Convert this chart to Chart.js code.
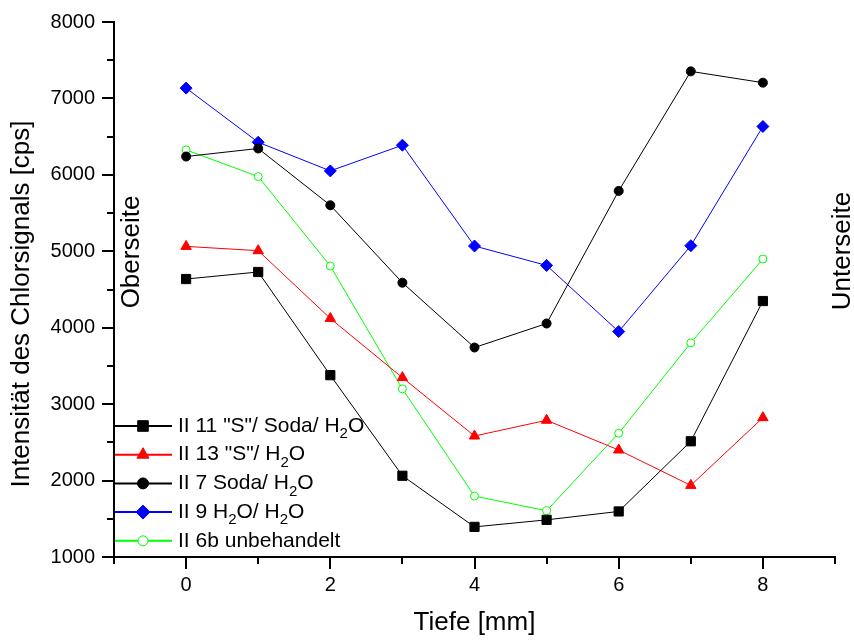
<!DOCTYPE html>
<html>
<head>
<meta charset="utf-8">
<script src="https://cdn.jsdelivr.net/npm/chart.js@4/dist/chart.umd.min.js"></script>
<style>
  html, body { margin: 0; padding: 0; background: #fff; }
  #wrap { width: 854px; height: 640px; }
</style>
</head>
<body>
<div id="wrap"><canvas id="myChart" width="854" height="640"></canvas></div>
<script>
// depth in mm
const depth = [0, 1, 2, 3, 4, 5, 6, 7, 8];

// chlorine signal intensity [cps]
const s11 = [4637, 4729, 3379, 2063, 1394, 1486, 1596, 2514, 4349];
const s13 = [5064, 5008, 4121, 3347, 2583, 2789, 2400, 1937, 2823];
const s7  = [6240, 6345, 5602, 4589, 3741, 4055, 5790, 7354, 7206];
const s9  = [7135, 6427, 6052, 6388, 5069, 4815, 3950, 5073, 6633];
const s6b = [6327, 5978, 4807, 3199, 1797, 1605, 2619, 3802, 4899];

// "_2" marks a subscript 2
const names = ['II 11 "S"/ Soda/ H_2O', 'II 13 "S"/ H_2O', 'II 7 Soda/ H_2O', 'II 9 H_2O/ H_2O', 'II 6b unbehandelt'];

const xTicks = [-1, 0, 1, 2, 3, 4, 5, 6, 7, 8, 9];
const yTicks = [1000, 1500, 2000, 2500, 3000, 3500, 4000, 4500, 5000, 5500, 6000, 6500, 7000, 7500, 8000];

const FONT = "'Liberation Sans', Arial, sans-serif";

function pts(vals) {
  return depth.map(function (d, i) { return { x: d, y: vals[i] }; });
}

function series(label, vals, color, style, radius, fill) {
  return {
    label: label,
    data: pts(vals),
    borderColor: color,
    backgroundColor: color,
    borderWidth: 1,
    pointStyle: style,
    pointRadius: radius,
    pointHoverRadius: radius,
    pointBackgroundColor: fill || color,
    pointBorderColor: color,
    pointBorderWidth: 1,
    tension: 0
  };
}

// axis ticks, extra labels and legend drawn on top
const extras = {
  id: 'extras',
  afterDraw: function (chart) {
    const ctx = chart.ctx;
    const xs = chart.scales.x, ys = chart.scales.y;
    const area = chart.chartArea;
    ctx.save();
    ctx.strokeStyle = '#000';
    ctx.lineWidth = 2;
    xTicks.forEach(function (t) {
      const px = Math.round(xs.getPixelForValue(t));
      const len = (t % 2 === 0) ? 12 : 7;
      ctx.beginPath();
      ctx.moveTo(px, area.bottom);
      ctx.lineTo(px, area.bottom + len);
      ctx.stroke();
    });
    yTicks.forEach(function (t) {
      const py = Math.round(ys.getPixelForValue(t));
      const len = (t % 1000 === 0) ? 12 : 7;
      ctx.beginPath();
      ctx.moveTo(area.left, py);
      ctx.lineTo(area.left - len, py);
      ctx.stroke();
    });

    ctx.fillStyle = '#000';
    ctx.textAlign = 'center';
    ctx.textBaseline = 'middle';
    ctx.font = '26px ' + FONT;
    ctx.fillText('Tiefe [mm]', (area.left + area.right) / 2, 623);

    function vtext(txt, x, y) {
      ctx.save();
      ctx.translate(x, y);
      ctx.rotate(-Math.PI / 2);
      ctx.fillText(txt, 0, 0);
      ctx.restore();
    }
    vtext('Intensität des Chlorsignals [cps]', 22, 304);
    vtext('Oberseite', 132, 252);
    vtext('Unterseite', 843, 251);

    // legend
    const y0 = 426, step = 28.7;
    chart.data.datasets.forEach(function (ds, i) {
      const y = y0 + i * step;
      ctx.strokeStyle = ds.borderColor;
      ctx.lineWidth = 2;
      ctx.beginPath();
      ctx.moveTo(area.left + 1, y);
      ctx.lineTo(172, y);
      ctx.stroke();
      ctx.fillStyle = ds.pointBackgroundColor;
      ctx.strokeStyle = ds.pointBorderColor;
      ctx.lineWidth = 1;
      Chart.helpers.drawPoint(ctx, { pointStyle: ds.pointStyle, radius: ds.pointRadius + 1, borderWidth: 1, rotation: 0 }, 143, y);
      ctx.fillStyle = '#000';
      ctx.textAlign = 'left';
      let x = 178;
      const parts = names[i].split('_');
      parts.forEach(function (p, k) {
        if (k > 0) {
          ctx.font = '15px ' + FONT;
          ctx.fillText(p.charAt(0), x, y + 8);
          x += ctx.measureText(p.charAt(0)).width;
          p = p.slice(1);
        }
        ctx.font = '21px ' + FONT;
        ctx.fillText(p, x, y);
        x += ctx.measureText(p).width;
      });
    });
    ctx.restore();
  }
};

document.addEventListener('DOMContentLoaded', function () {
  var ctx = document.getElementById('myChart').getContext('2d');
  var myChart = new Chart(ctx, {
    type: 'line',
    data: {
      datasets: [
        series(names[0], s11, '#000000', 'rect', 6.5),
        series(names[1], s13, '#ff0000', 'triangle', 6),
        series(names[2], s7, '#000000', 'circle', 4.5),
        series(names[3], s9, '#0000ff', 'rectRot', 6),
        series(names[4], s6b, '#00ff00', 'circle', 4, '#ffffff')
      ]
    },
    plugins: [extras],
    options: {
      responsive: false,
      animation: false,
      events: [],
      layout: { padding: { left: 0, right: 19, top: 22, bottom: 0 } },
      plugins: { legend: { display: false }, tooltip: { enabled: false } },
      scales: {
        x: {
          type: 'linear',
          min: -1,
          max: 9,
          afterFit: function (s) { s.height = 83; },
          grid: { display: false, drawTicks: false },
          border: { display: true, color: '#000', width: 2 },
          ticks: {
            stepSize: 1,
            autoSkip: false,
            maxRotation: 0,
            padding: 16,
            color: '#000',
            font: { family: FONT, size: 20 },
            callback: function (v) { return (v >= 0 && v <= 8 && v % 2 === 0) ? String(v) : ''; }
          }
        },
        y: {
          min: 1000,
          max: 8000,
          afterFit: function (s) { s.width = 114; },
          grid: { display: true, drawOnChartArea: false, drawTicks: true, tickLength: 19, tickColor: 'rgba(0,0,0,0)' },
          border: { display: true, color: '#000', width: 2 },
          ticks: {
            stepSize: 1000,
            padding: 0,
            color: '#000',
            font: { family: FONT, size: 20 },
            callback: function (v) { return String(v); }
          }
        }
      }
    }
  });
});
</script>
</body>
</html>
